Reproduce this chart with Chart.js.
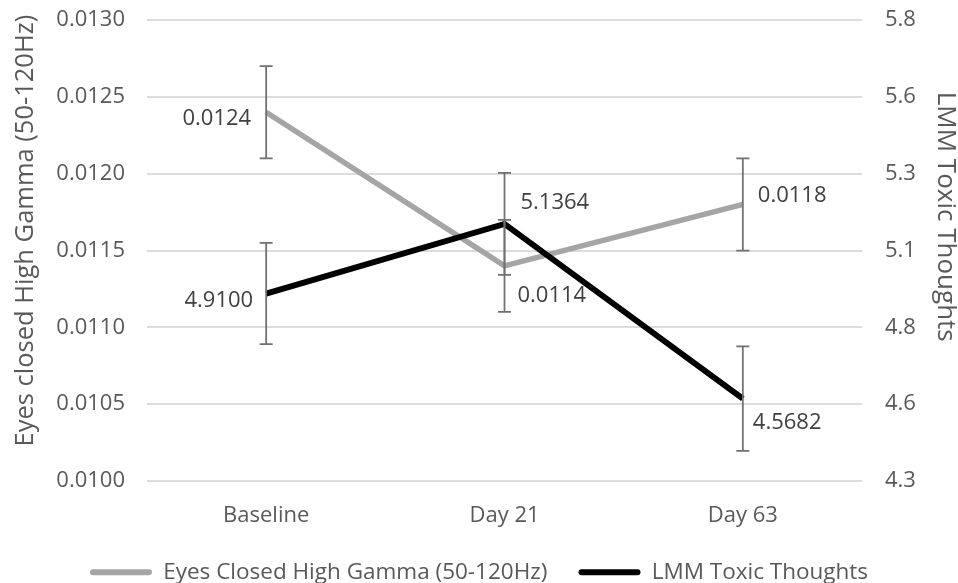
<!DOCTYPE html>
<html>
<head>
<meta charset="utf-8">
<script src="https://cdn.jsdelivr.net/npm/chart.js@4/dist/chart.umd.min.js"></script>
<style>
  html, body { margin: 0; padding: 0; background: #ffffff; }
  #wrap { width: 958px; height: 583px; }
</style>
</head>
<body>
<div id="wrap"><canvas id="chart" width="958" height="583"></canvas></div>
<script>
// ---- data ----
const categories = ['Baseline', 'Day 21', 'Day 63'];
const gammaValues = [0.0124, 0.0114, 0.0118];
const gammaErrors = [0.0003, 0.0003, 0.0003];
const toxicValues = [4.9100, 5.1364, 4.5682];
const toxicErrors = [0.165, 0.166, 0.170];
const rightTickLabels = ['4.3', '4.6', '4.8', '5.1', '5.3', '5.6', '5.8'];

// ---- styling ----
const FONT = '"Open Sans", "Noto Sans", sans-serif';
const TEXT = '#595959';
const LABEL_TEXT = '#404040';
const GRID = '#dcdcdc';

// where each value label sits relative to its point
const labelPlacement = {
  gamma: [
    { align: 'right', dx: -15, dy: 7 },
    { align: 'left', dx: 13, dy: 30 },
    { align: 'left', dx: 15, dy: -9 }
  ],
  toxic: [
    { align: 'right', dx: -13, dy: 7 },
    { align: 'left', dx: 16, dy: -21 },
    { align: 'left', dx: 10, dy: 24 }
  ]
};

// vertical error bars with caps, drawn on the dataset's own y scale
const errorBarPlugin = {
  id: 'errorBars',
  afterDatasetsDraw(chart) {
    const ctx = chart.ctx;
    chart.data.datasets.forEach((ds, di) => {
      if (!ds.errorBars) return;
      const meta = chart.getDatasetMeta(di);
      const scale = chart.scales[ds.yAxisID];
      ctx.save();
      ctx.strokeStyle = '#707070';
      ctx.lineWidth = 1.75;
      meta.data.forEach((pt, i) => {
        const v = ds.data[i], e = ds.errorBars[i];
        const yTop = scale.getPixelForValue(v + e);
        const yBot = scale.getPixelForValue(v - e);
        const x = pt.x, cap = 6.5;
        ctx.beginPath();
        ctx.moveTo(x, yTop); ctx.lineTo(x, yBot);
        ctx.moveTo(x - cap, yTop); ctx.lineTo(x + cap, yTop);
        ctx.moveTo(x - cap, yBot); ctx.lineTo(x + cap, yBot);
        ctx.stroke();
      });
      ctx.restore();
    });
  }
};

// value labels next to each point
const valueLabelPlugin = {
  id: 'valueLabels',
  afterDatasetsDraw(chart) {
    const ctx = chart.ctx;
    chart.data.datasets.forEach((ds, di) => {
      const place = labelPlacement[ds.labelKey];
      if (!place) return;
      const meta = chart.getDatasetMeta(di);
      ctx.save();
      ctx.font = '22px ' + FONT;
      ctx.fillStyle = LABEL_TEXT;
      ctx.textBaseline = 'middle';
      meta.data.forEach((pt, i) => {
        const p = place[i];
        ctx.textAlign = p.align;
        ctx.fillText(ds.data[i].toFixed(4), pt.x + p.dx, pt.y + p.dy);
      });
      ctx.restore();
    });
  }
};

// fixed side widths for the value axes; the outer layout padding handles the ends
function fixVerticalAxis(width) {
  return s => {
    s.width = width;
    s.paddingTop = 0;
    s.paddingBottom = 0;
  };
}

new Chart(document.getElementById('chart'), {
  type: 'line',
  data: {
    labels: categories,
    datasets: [
      {
        label: 'Eyes Closed High Gamma (50-120Hz)',
        data: gammaValues,
        errorBars: gammaErrors,
        labelKey: 'gamma',
        yAxisID: 'y',
        borderColor: '#a5a5a5',
        backgroundColor: '#a5a5a5',
        borderWidth: 5.5,
        pointRadius: 0,
        tension: 0,
        order: 1
      },
      {
        label: 'LMM Toxic Thoughts',
        data: toxicValues,
        errorBars: toxicErrors,
        labelKey: 'toxic',
        yAxisID: 'y1',
        borderColor: '#000000',
        backgroundColor: '#000000',
        borderWidth: 6,
        pointRadius: 0,
        tension: 0,
        order: 0
      }
    ]
  },
  options: {
    responsive: false,
    animation: false,
    layout: { padding: { top: 20, left: 0, right: 0, bottom: -10.5 } },
    plugins: {
      tooltip: { enabled: false },
      legend: {
        position: 'bottom',
        labels: {
          font: { family: FONT, size: 22.5 },
          color: TEXT,
          boxWidth: 62,
          boxHeight: 6,
          padding: 31,
          useBorderRadius: true,
          borderRadius: 3,
          sort: (a, b) => a.datasetIndex - b.datasetIndex,
          generateLabels(chart) {
            const items = Chart.defaults.plugins.legend.labels.generateLabels(chart);
            return items.map(it => Object.assign(it, { lineWidth: 0, fillStyle: it.strokeStyle }));
          }
        }
      }
    },
    scales: {
      x: {
        offset: true,
        grid: { display: false, drawTicks: false },
        border: { display: false },
        ticks: { font: { family: FONT, size: 22 }, color: TEXT, padding: 22 },
        afterFit(s) { s.height = 49; }
      },
      y: {
        position: 'left',
        min: 0.0100,
        max: 0.0130,
        ticks: {
          stepSize: 0.0005,
          font: { family: FONT, size: 22 },
          color: TEXT,
          padding: 22,
          callback: v => Number(v).toFixed(4)
        },
        grid: { color: GRID, lineWidth: 2, drawTicks: false },
        border: { display: false },
        title: {
          display: true,
          text: '      Eyes closed High Gamma (50-120Hz)',
          color: TEXT,
          font: { family: FONT, size: 25.5, lineHeight: 1 },
          padding: { top: 13, bottom: 0 }
        },
        afterFit: fixVerticalAxis(147)
      },
      y1: {
        position: 'right',
        min: 4.3,
        max: 5.8,
        ticks: {
          stepSize: 0.25,
          font: { family: FONT, size: 22 },
          color: TEXT,
          padding: 23,
          callback: (v, i) => rightTickLabels[i]
        },
        grid: { drawOnChartArea: false, drawTicks: false },
        border: { display: false },
        title: {
          display: true,
          text: 'LMM Toxic Thoughts          ',
          color: TEXT,
          font: { family: FONT, size: 26, lineHeight: 1 },
          padding: { top: 0, bottom: 0 }
        },
        afterFit: fixVerticalAxis(96)
      }
    }
  },
  plugins: [errorBarPlugin, valueLabelPlugin]
});
</script>
</body>
</html>
